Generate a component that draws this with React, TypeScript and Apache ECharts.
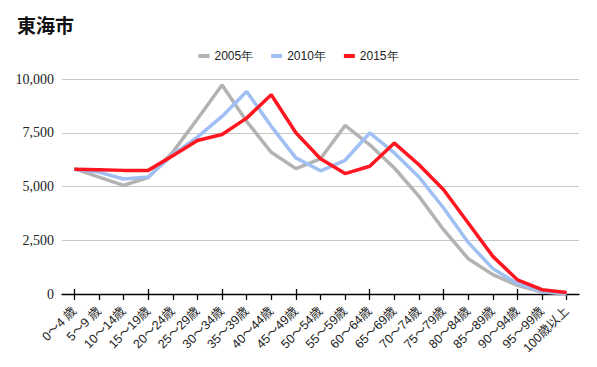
import React, { useEffect, useRef } from "react";
import * as echarts from "echarts";

const categories = [
  "0～4 歳", "5～9 歳", "10～14歳", "15～19歳", "20～24歳", "25～29歳", "30～34歳",
  "35～39歳", "40～44歳", "45～49歳", "50～54歳", "55～59歳", "60～64歳", "65～69歳",
  "70～74歳", "75～79歳", "80～84歳", "85～89歳", "90～94歳", "95～99歳", "100歳以上",
];

const s2005 = [5830, 5440, 5050, 5420, 6600, 8140, 9720, 8030, 6590, 5830, 6290, 7840, 6940, 5860, 4540, 2990, 1640, 900, 400, 90, 10];
const s2010 = [5800, 5670, 5350, 5440, 6480, 7300, 8260, 9420, 7800, 6330, 5730, 6220, 7490, 6560, 5440, 4000, 2400, 1180, 480, 120, 20];
const s2015 = [5800, 5780, 5750, 5750, 6430, 7140, 7420, 8180, 9270, 7500, 6290, 5600, 5940, 7020, 6010, 4850, 3300, 1750, 660, 200, 75];

const seriesNames = ["2005年", "2010年", "2015年"];
const colors = ["#b3b3b3", "#a0bff2", "#ff1620"];

export default function App() {
  const ref = useRef<HTMLDivElement>(null);
  useEffect(() => {
    if (!ref.current) return;
    const chart = echarts.init(ref.current, undefined, { renderer: "svg" });
    const data = [s2005, s2010, s2015];
    chart.setOption({
      animation: false,
      color: colors,
      title: {
        text: "東海市",
        left: 12,
        top: 10,
        textStyle: {
          fontFamily: "'Noto Sans CJK JP', sans-serif",
          fontSize: 19,
          fontWeight: "bold",
          color: "#111",
        },
      },
      legend: {
        top: 45,
        left: "center",
        icon: "rect",
        itemWidth: 11,
        itemHeight: 4,
        itemGap: 18,
        textStyle: {
          fontFamily: "'Liberation Sans', Arial, sans-serif",
          fontSize: 12,
          color: "#222",
        },
        data: seriesNames,
      },
      grid: { left: 62, right: 18, top: 79, bottom: 73, containLabel: false },
      xAxis: [
        {
          type: "category",
          data: categories,
          boundaryGap: true,
          axisLine: { show: true, lineStyle: { color: "#000", width: 1.3 } },
          axisTick: { show: true, alignWithLabel: true, length: 6, lineStyle: { color: "#000", width: 1.3 } },
          axisLabel: {
            rotate: 45,
            interval: 0,
            margin: 15,
            fontFamily: "'Liberation Sans', Arial, 'Noto Sans CJK JP', sans-serif",
            fontSize: 12.5,
            color: "#222",
          },
        },
        {
          type: "category",
          data: categories,
          position: "bottom",
          boundaryGap: true,
          axisLine: { show: false },
          axisTick: { show: true, inside: true, alignWithLabel: true, length: 5, lineStyle: { color: "#000", width: 1.3 } },
          axisLabel: { show: false },
        },
      ],
      yAxis: {
        type: "value",
        min: 0,
        max: 10000,
        interval: 2500,
        axisLine: { show: false },
        axisTick: { show: false },
        splitLine: { lineStyle: { color: "#c8c8c8", width: 1 } },
        axisLabel: {
          margin: 8,
          fontFamily: "'Liberation Serif', 'Times New Roman', serif",
          fontSize: 14,
          color: "#222",
          formatter: (v: number) => v.toLocaleString("en-US"),
        },
      },
      series: data.map((d, i) => ({
        name: seriesNames[i],
        type: "line",
        data: d,
        xAxisIndex: 0,
        showSymbol: false,
        symbol: "none",
        z: 2 + i,
        lineStyle: { width: 3.5, color: colors[i] },
        itemStyle: { color: colors[i] },
      })),
    });
    return () => chart.dispose();
  }, []);
  return <div ref={ref} style={{ width: 597, height: 367, margin: -8 }} />;
}
